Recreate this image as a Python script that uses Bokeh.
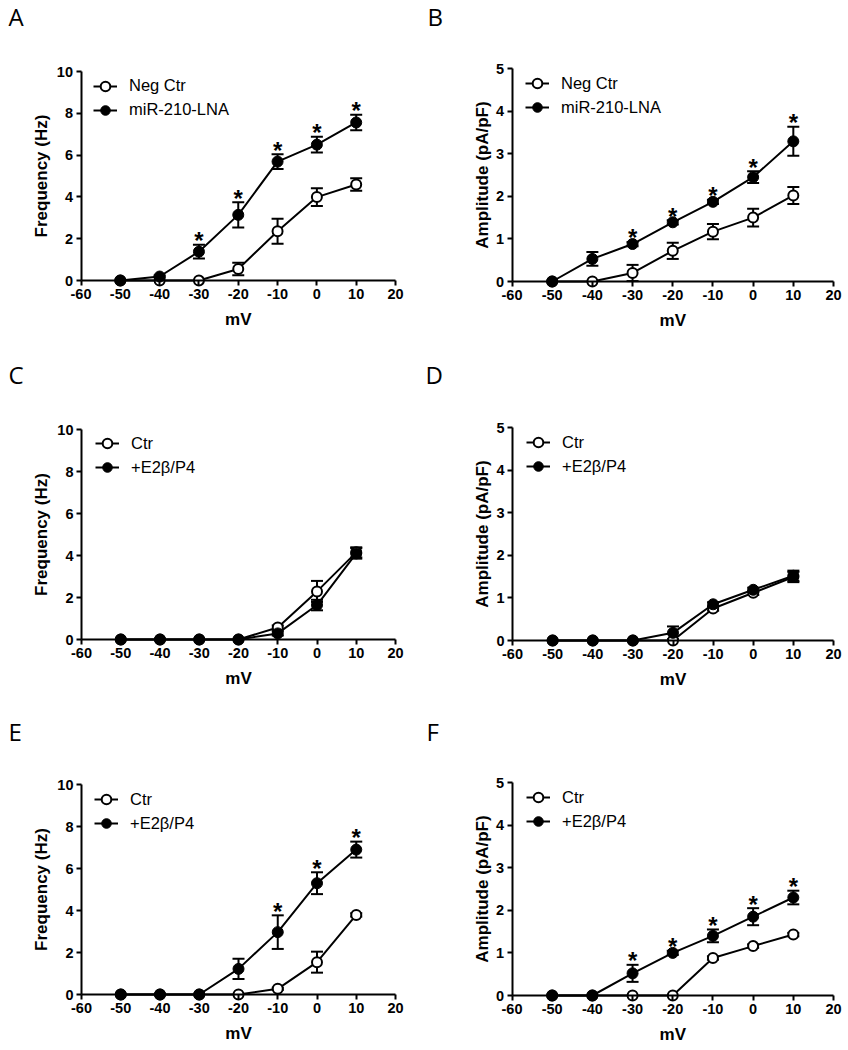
import math
from bokeh.plotting import figure
from bokeh.models import (ColumnDataSource, Whisker, TeeHead, Legend, LegendItem,
                          Label, Range1d)
from bokeh.layouts import column, row
from bokeh.embed import file_html
from bokeh.resources import INLINE
from bokeh.core.properties import value

# ---------------- data ----------------
mv = [-50, -40, -30, -20, -10, 0, 10]
x_ticks = [-60, -50, -40, -30, -20, -10, 0, 10, 20]
freq_ticks = [0, 2, 4, 6, 8, 10]
amp_ticks = [0, 1, 2, 3, 4, 5]

# Panel A: frequency, Neg Ctr vs miR-210-LNA
a_ctr_mean = [0, 0, 0, 0.55, 2.36, 3.99, 4.59]
a_ctr_sem = [0, 0, 0, 0.30, 0.60, 0.42, 0.30]
a_lna_mean = [0, 0.19, 1.38, 3.14, 5.69, 6.50, 7.56]
a_lna_sem = [0, 0.05, 0.33, 0.60, 0.35, 0.38, 0.37]
a_sig = [False, False, True, True, True, True, True]

# Panel B: amplitude, Neg Ctr vs miR-210-LNA
b_ctr_mean = [0, 0, 0.20, 0.72, 1.17, 1.50, 2.02]
b_ctr_sem = [0, 0, 0.19, 0.19, 0.18, 0.21, 0.20]
b_lna_mean = [0, 0.53, 0.88, 1.39, 1.87, 2.45, 3.29]
b_lna_sem = [0, 0.16, 0.05, 0.05, 0.05, 0.14, 0.34]
b_sig = [False, False, True, True, True, True, True]

# Panel C: frequency, Ctr vs +E2b/P4
c_ctr_mean = [0, 0, 0, 0, 0.57, 2.29, 4.15]
c_ctr_sem = [0, 0, 0, 0, 0.10, 0.50, 0.24]
c_e2_mean = [0, 0, 0, 0, 0.29, 1.64, 4.10]
c_e2_sem = [0, 0, 0, 0, 0.10, 0.25, 0.25]
c_sig = [False] * 7

# Panel D: amplitude, Ctr vs +E2b/P4
d_ctr_mean = [0, 0, 0, 0, 0.75, 1.12, 1.49]
d_ctr_sem = [0, 0, 0, 0, 0.05, 0.05, 0.12]
d_e2_mean = [0, 0, 0, 0.18, 0.85, 1.19, 1.52]
d_e2_sem = [0, 0, 0, 0.15, 0.05, 0.05, 0.12]
d_sig = [False] * 7

# Panel E: frequency, Ctr vs +E2b/P4
e_ctr_mean = [0, 0, 0, 0, 0.27, 1.54, 3.79]
e_ctr_sem = [0, 0, 0, 0, 0.05, 0.50, 0.08]
e_e2_mean = [0, 0, 0, 1.22, 2.97, 5.30, 6.90]
e_e2_sem = [0, 0, 0, 0.48, 0.80, 0.52, 0.38]
e_sig = [False, False, False, False, True, True, True]

# Panel F: amplitude, Ctr vs +E2b/P4
f_ctr_mean = [0, 0, 0, 0, 0.88, 1.16, 1.43]
f_ctr_sem = [0, 0, 0, 0, 0.04, 0.04, 0.04]
f_e2_mean = [0, 0, 0.52, 1.00, 1.40, 1.85, 2.30]
f_e2_sem = [0, 0, 0.20, 0.05, 0.15, 0.20, 0.16]
f_sig = [False, False, True, True, True, True, True]

names_ab = ["Neg Ctr", "miR-210-LNA"]
names_cf = ["Ctr", "+E2\u03b2/P4"]
freq_label = "Frequency (Hz)"
amp_label = "Amplitude (pA/pF)"

FONT = "Liberation Sans"


def make_panel(letter, origin, size, xpx, ypx, ymax, yticks, ylabel, ylabel_x,
               legend_c, letter_pos, ctr, trt, names, sig):
    ox, oy = origin
    W, H = size
    x0p, x1p = xpx
    y0p, y1p = ypx
    gcx, gcy = legend_c
    kx = (x1p - x0p) / 80.0
    ky = (y0p - y1p) / float(ymax)
    # frame = whole figure; map page pixels to data
    xs = -60 - (x0p - ox) / kx
    xe = 20 + (W - (x1p - ox)) / kx
    ys = -(H - (y0p - oy)) / ky
    ye = ymax + (y1p - oy) / ky

    def dx(px):
        return xs + (px - ox) / kx

    def dy(py):
        return ys + (H - (py - oy)) / ky

    p = figure(width=W, height=H, output_backend="svg", toolbar_location=None,
               x_range=Range1d(xs, xe), y_range=Range1d(ys, ye),
               min_border=0, min_border_left=0, min_border_right=0,
               min_border_top=0, min_border_bottom=0)
    p.outline_line_color = None
    p.grid.visible = False
    p.background_fill_color = "white"
    p.border_fill_color = "white"

    for ax in (p.xaxis[0], p.yaxis[0]):
        ax.axis_line_width = 2
        ax.major_tick_line_width = 2
        ax.major_tick_in = 0
        ax.major_tick_out = 5
        ax.minor_tick_line_color = None
        ax.major_label_text_font = FONT
        ax.major_label_text_font_style = "bold"
        ax.major_label_text_font_size = "14.5px"
        ax.major_label_text_color = "black"
        ax.major_label_standoff = 3
    xa = p.xaxis[0]
    ya = p.yaxis[0]
    xa.fixed_location = 0
    ya.fixed_location = -60
    xa.bounds = (-60, 20)
    ya.bounds = (0, ymax)
    xa.ticker = x_ticks
    ya.ticker = yticks
    xa.major_label_overrides = {t: str(t) for t in x_ticks}
    ya.major_label_overrides = {t: str(t) for t in yticks}

    # axis titles
    p.add_layout(Label(x=dx(ylabel_x), y=dy((y0p + y1p) / 2), text=ylabel,
                       angle=math.pi / 2, text_align="center", text_baseline="middle",
                       text_font=FONT, text_font_style="bold", text_font_size="17px",
                       text_color="black"))
    p.add_layout(Label(x=-20, y=dy(y0p + 39), text="mV",
                       text_align="center", text_baseline="alphabetic",
                       text_font=FONT, text_font_style="bold", text_font_size="17px",
                       text_color="black"))

    items = []
    for (mean, sem), fill, nm in ((ctr, "white", names[0]), (trt, "black", names[1])):
        src = ColumnDataSource(dict(x=mv, y=mean))
        eb = [i for i in range(len(mv)) if sem[i] > 0]
        esrc = ColumnDataSource(dict(
            base=[mv[i] for i in eb],
            lower=[mean[i] - sem[i] for i in eb],
            upper=[mean[i] + sem[i] for i in eb]))
        w = Whisker(base="base", lower="lower", upper="upper", source=esrc,
                    line_width=2, line_color="black", level="underlay",
                    upper_head=TeeHead(size=12, line_width=2, line_color="black"),
                    lower_head=TeeHead(size=12, line_width=2, line_color="black"))
        p.add_layout(w)
        lr = p.line("x", "y", source=src, line_width=2, line_color="black")
        if fill == "white":
            sr = p.scatter("x", "y", source=src, marker="circle", size=10,
                           fill_color="white", line_color="black", line_width=2)
        else:
            sr = p.scatter("x", "y", source=src, marker="circle", size=11,
                           fill_color="black", line_color="black", line_width=1)
        items.append(LegendItem(label=nm, renderers=[lr, sr]))

    tmean, tsem = trt
    si = [i for i in range(len(mv)) if sig[i]]
    if si:
        ssrc = ColumnDataSource(dict(x=[mv[i] for i in si],
                                     y=[tmean[i] + tsem[i] for i in si],
                                     t=["*"] * len(si)))
        p.text("x", "y", text="t", source=ssrc, text_align="center",
               text_baseline="alphabetic", text_font=value(FONT),
               text_font_style="bold", text_font_size="24px",
               text_color="black", y_offset=-4)

    leg_h = 48
    gl = gcx - 13 - ox
    top = gcy - 12 - oy
    leg = Legend(items=items, location=(gl, H - top - leg_h), margin=0, padding=0,
                 border_line_color=None, background_fill_alpha=0,
                 glyph_width=24, glyph_height=24, label_height=24,
                 spacing=0, label_standoff=12,
                 label_text_font=FONT, label_text_font_size="16.5px",
                 label_text_color="black")
    p.add_layout(leg)

    lx, ly = letter_pos
    p.add_layout(Label(x=dx(lx), y=dy(ly - 11), text=letter, text_font="Open Sans",
                       text_font_size="24px", text_align="left",
                       text_baseline="alphabetic", text_color="black"))
    return p


pA = make_panel("A", (0, 0), (424, 352), (80.5, 395), (280, 71), 10, freq_ticks,
                freq_label, 40.5, (106, 85.5), (8, 27),
                (a_ctr_mean, a_ctr_sem), (a_lna_mean, a_lna_sem), names_ab, a_sig)
pB = make_panel("B", (424, 0), (423, 352), (511.5, 833), (281, 68), 5, amp_ticks,
                amp_label, 481.5, (538, 83), (427, 27),
                (b_ctr_mean, b_ctr_sem), (b_lna_mean, b_lna_sem), names_ab, b_sig)
pC = make_panel("C", (0, 352), (424, 360), (81, 395), (639, 429), 10, freq_ticks,
                freq_label, 40.5, (108, 443), (8, 385),
                (c_ctr_mean, c_ctr_sem), (c_e2_mean, c_e2_sem), names_cf, c_sig)
pD = make_panel("D", (424, 352), (423, 360), (512, 833), (640, 427), 5, amp_ticks,
                amp_label, 481.5, (539, 442), (425, 385),
                (d_ctr_mean, d_ctr_sem), (d_e2_mean, d_e2_sem), names_cf, d_sig)
pE = make_panel("E", (0, 712), (424, 337), (81, 395), (994, 784), 10, freq_ticks,
                freq_label, 40.5, (107, 799), (8, 742),
                (e_ctr_mean, e_ctr_sem), (e_e2_mean, e_e2_sem), names_cf, e_sig)
pF = make_panel("F", (424, 712), (423, 337), (511.5, 833), (995, 782), 5, amp_ticks,
                amp_label, 481.5, (539, 797), (426, 742),
                (f_ctr_mean, f_ctr_sem), (f_e2_mean, f_e2_sem), names_cf, f_sig)

layout = column(row(pA, pB), row(pC, pD), row(pE, pF))
open("out.html", "w").write(file_html(layout, INLINE))
